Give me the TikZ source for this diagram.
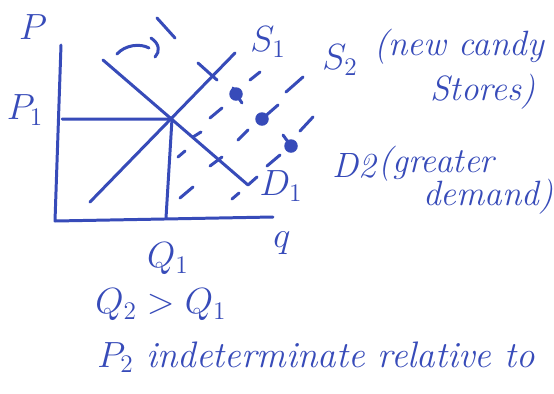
\documentclass[tikz,border=0pt]{standalone}
\usepackage{tikz}
\definecolor{ink}{RGB}{55,75,185}
\tikzset{
  pen/.style={draw=ink, line width=1.7pt, line cap=round, line join=round},
  lbl/.style={text=ink, inner sep=0pt, font=\itshape\fontsize{20}{24}\selectfont},
  biglbl/.style={text=ink, inner sep=0pt, font=\itshape\fontsize{22}{26}\selectfont},
  blob/.style={circle, fill=ink, inner sep=0pt, minimum size=0.27cm},
}
\begin{document}
\begin{tikzpicture}[x=0.02cm,y=-0.02cm]
\fill[white] (0,0) rectangle (554,393);
\useasboundingbox (0,0) rectangle (554,393);

% axes
\coordinate (ytop) at (61,45);
\coordinate (orig) at (55,221);
\coordinate (xend) at (273,217);
\draw[pen] (ytop) -- (orig) -- (xend);

% equilibrium
\coordinate (E) at (172,119);
\coordinate (p1ax) at (62,119);
\coordinate (q1ax) at (166,218);
\draw[pen] (p1ax) -- (E) -- (q1ax);

% supply S1 and demand D1
\coordinate (s1a) at (90,202);
\coordinate (s1b) at (235,53);
\draw[pen] (s1a) -- (s1b);
\coordinate (d1a) at (103,60);
\coordinate (d1b) at (248,185);
\coordinate (d1c) at (257,177);
\draw[pen] (d1a) -- (d1b) -- (d1c);
% tick on S1
\coordinate (tk1) at (198,63);
\coordinate (tk2) at (217,80);
\draw[pen] (tk1) -- (tk2);

% top curved arrow and slash
\coordinate (ar1) at (117,54);
\coordinate (ar2) at (149,48);
\draw[pen] (ar1) .. controls (125,45) and (140,43) .. (ar2);
\coordinate (ah1) at (151,38);
\coordinate (ah2) at (155,57);
\draw[pen] (ah1) .. controls (160,44) and (160,52) .. (ah2);
\coordinate (sl1) at (157,18);
\coordinate (sl2) at (175,38);
\draw[pen] (sl1) -- (sl2);

% dashed line 1
\draw[pen] (178,157) -- (185,151);
\draw[pen] (193,137) -- (201,132);
\draw[pen] (210,118) -- (222,108);
\draw[pen] (250,80) -- (260,72);
% dashed line 2
\draw[pen] (180,198) -- (193,187);
\draw[pen] (210,166) -- (222,157);
\draw[pen] (238,140) -- (248,130);
\draw[pen] (286,92) -- (303,77);
% dashed line 3
\draw[pen] (232,199) -- (239,193);
\draw[pen] (267,166) -- (280,155);
\draw[pen] (300,131) -- (313,117);

% blobs
\node[blob] (b1) at (236,94) {};
\draw[pen] (b1.center) -- (242,103);
\draw[pen] (b1.center) -- (233,88);
\node[blob] (b2) at (262,119) {};
\draw[pen] (b2.center) -- (278,105);
\node[blob] (b3) at (291,146) {};
\draw[pen] (b3.center) -- (283,135);

% labels
\node[biglbl] (lp) at (33,27) {$P$};
\node[biglbl] (lp1) at (25,110) {$P_1$};
\node[biglbl] (lq1) at (168,259) {$Q_1$};
\node[biglbl] (lq) at (282,243) {$q$};
\node[lbl] (ls1) at (268,42) {$S_1$};
\node[lbl] (ld1) at (281,186) {$D_1$};

\node[lbl, anchor=west] (ls2) at (322,60) {$S_2$};
\node[lbl, anchor=west] (ls2a) at (374,47) {(new candy};
\node[lbl, anchor=west] (ls2b) at (430,92) {Stores)};

\node[lbl, anchor=west] (ld2) at (332,166) {D2};
\node[lbl, anchor=west] (ld2a) at (378,164) {(greater};
\node[lbl, anchor=west] (ld2b) at (423,197) {demand)};

\node[biglbl, anchor=west] (lq2) at (95,305) {$Q_2 > Q_1$};
\node[text=ink, inner sep=0pt, anchor=west, font=\itshape\fontsize{21}{25}\selectfont] (lp2) at (97,357) {$P_2$ indeterminate relative to};
\end{tikzpicture}
\end{document}
